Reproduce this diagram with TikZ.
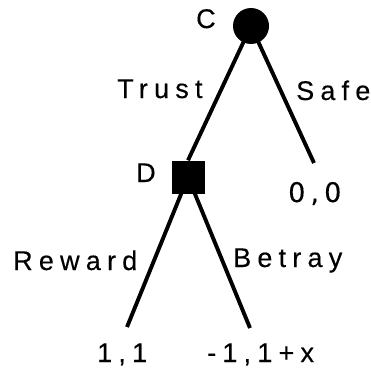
\documentclass[tikz,border=0pt]{standalone}
\usepackage{fontspec}
\setmainfont{Liberation Sans}[LetterSpace=23,FakeBold=0.3]
\newfontfamily\dvfont{DejaVu Sans}[LetterSpace=19,FakeBold=0.3]
\usetikzlibrary{backgrounds}
\begin{document}
\begin{tikzpicture}[x=1pt,y=-1pt,
  branch/.style={line width=3.9pt},
  chance/.style={circle,fill=black,minimum size=36pt,inner sep=0pt},
  decision/.style={rectangle,fill=black,minimum size=33pt,inner sep=0pt},
  lbl/.style={anchor=base west,inner sep=0pt,font=\fontsize{27}{32}\selectfont},
  dlbl/.style={anchor=base west,inner sep=0pt,font=\dvfont\fontsize{27}{32}\selectfont}]
\useasboundingbox (0,0) rectangle (371,369);

% decision nodes
\node[chance] (C) at (251,26) {};
\node[decision] (D) at (188,177) {};

% leaves
\coordinate (safeEnd) at (314,163);
\coordinate (rewEnd) at (127,327);
\coordinate (betEnd) at (250,328);

% branches, behind the nodes
\begin{scope}[on background layer]
  \draw[branch] (C.center) -- (D.north);
  \draw[branch] (C.center) -- (safeEnd);
  \draw[branch] (D.center) -- (rewEnd);
  \draw[branch] (D.center) -- (betEnd);
\end{scope}

% labels
\node[lbl] (lC) at (196,28) {C};
\node[lbl] (lD) at (136,182) {D};
\node[lbl] (lTrust) at (117,98) {Trust};
\node[lbl] (lSafe) at (296,100) {Safe};
\node[lbl] (lReward) at (13,270) {Reward};
\node[lbl] (lBetray) at (233,267) {Betray};
\node[dlbl] (p00) at (288,202) {0,0};
\node[lbl] (p11) at (97,362) {1,1};
\node[lbl] (pbx) at (207,362) {-1,1+x};
\end{tikzpicture}
\end{document}
